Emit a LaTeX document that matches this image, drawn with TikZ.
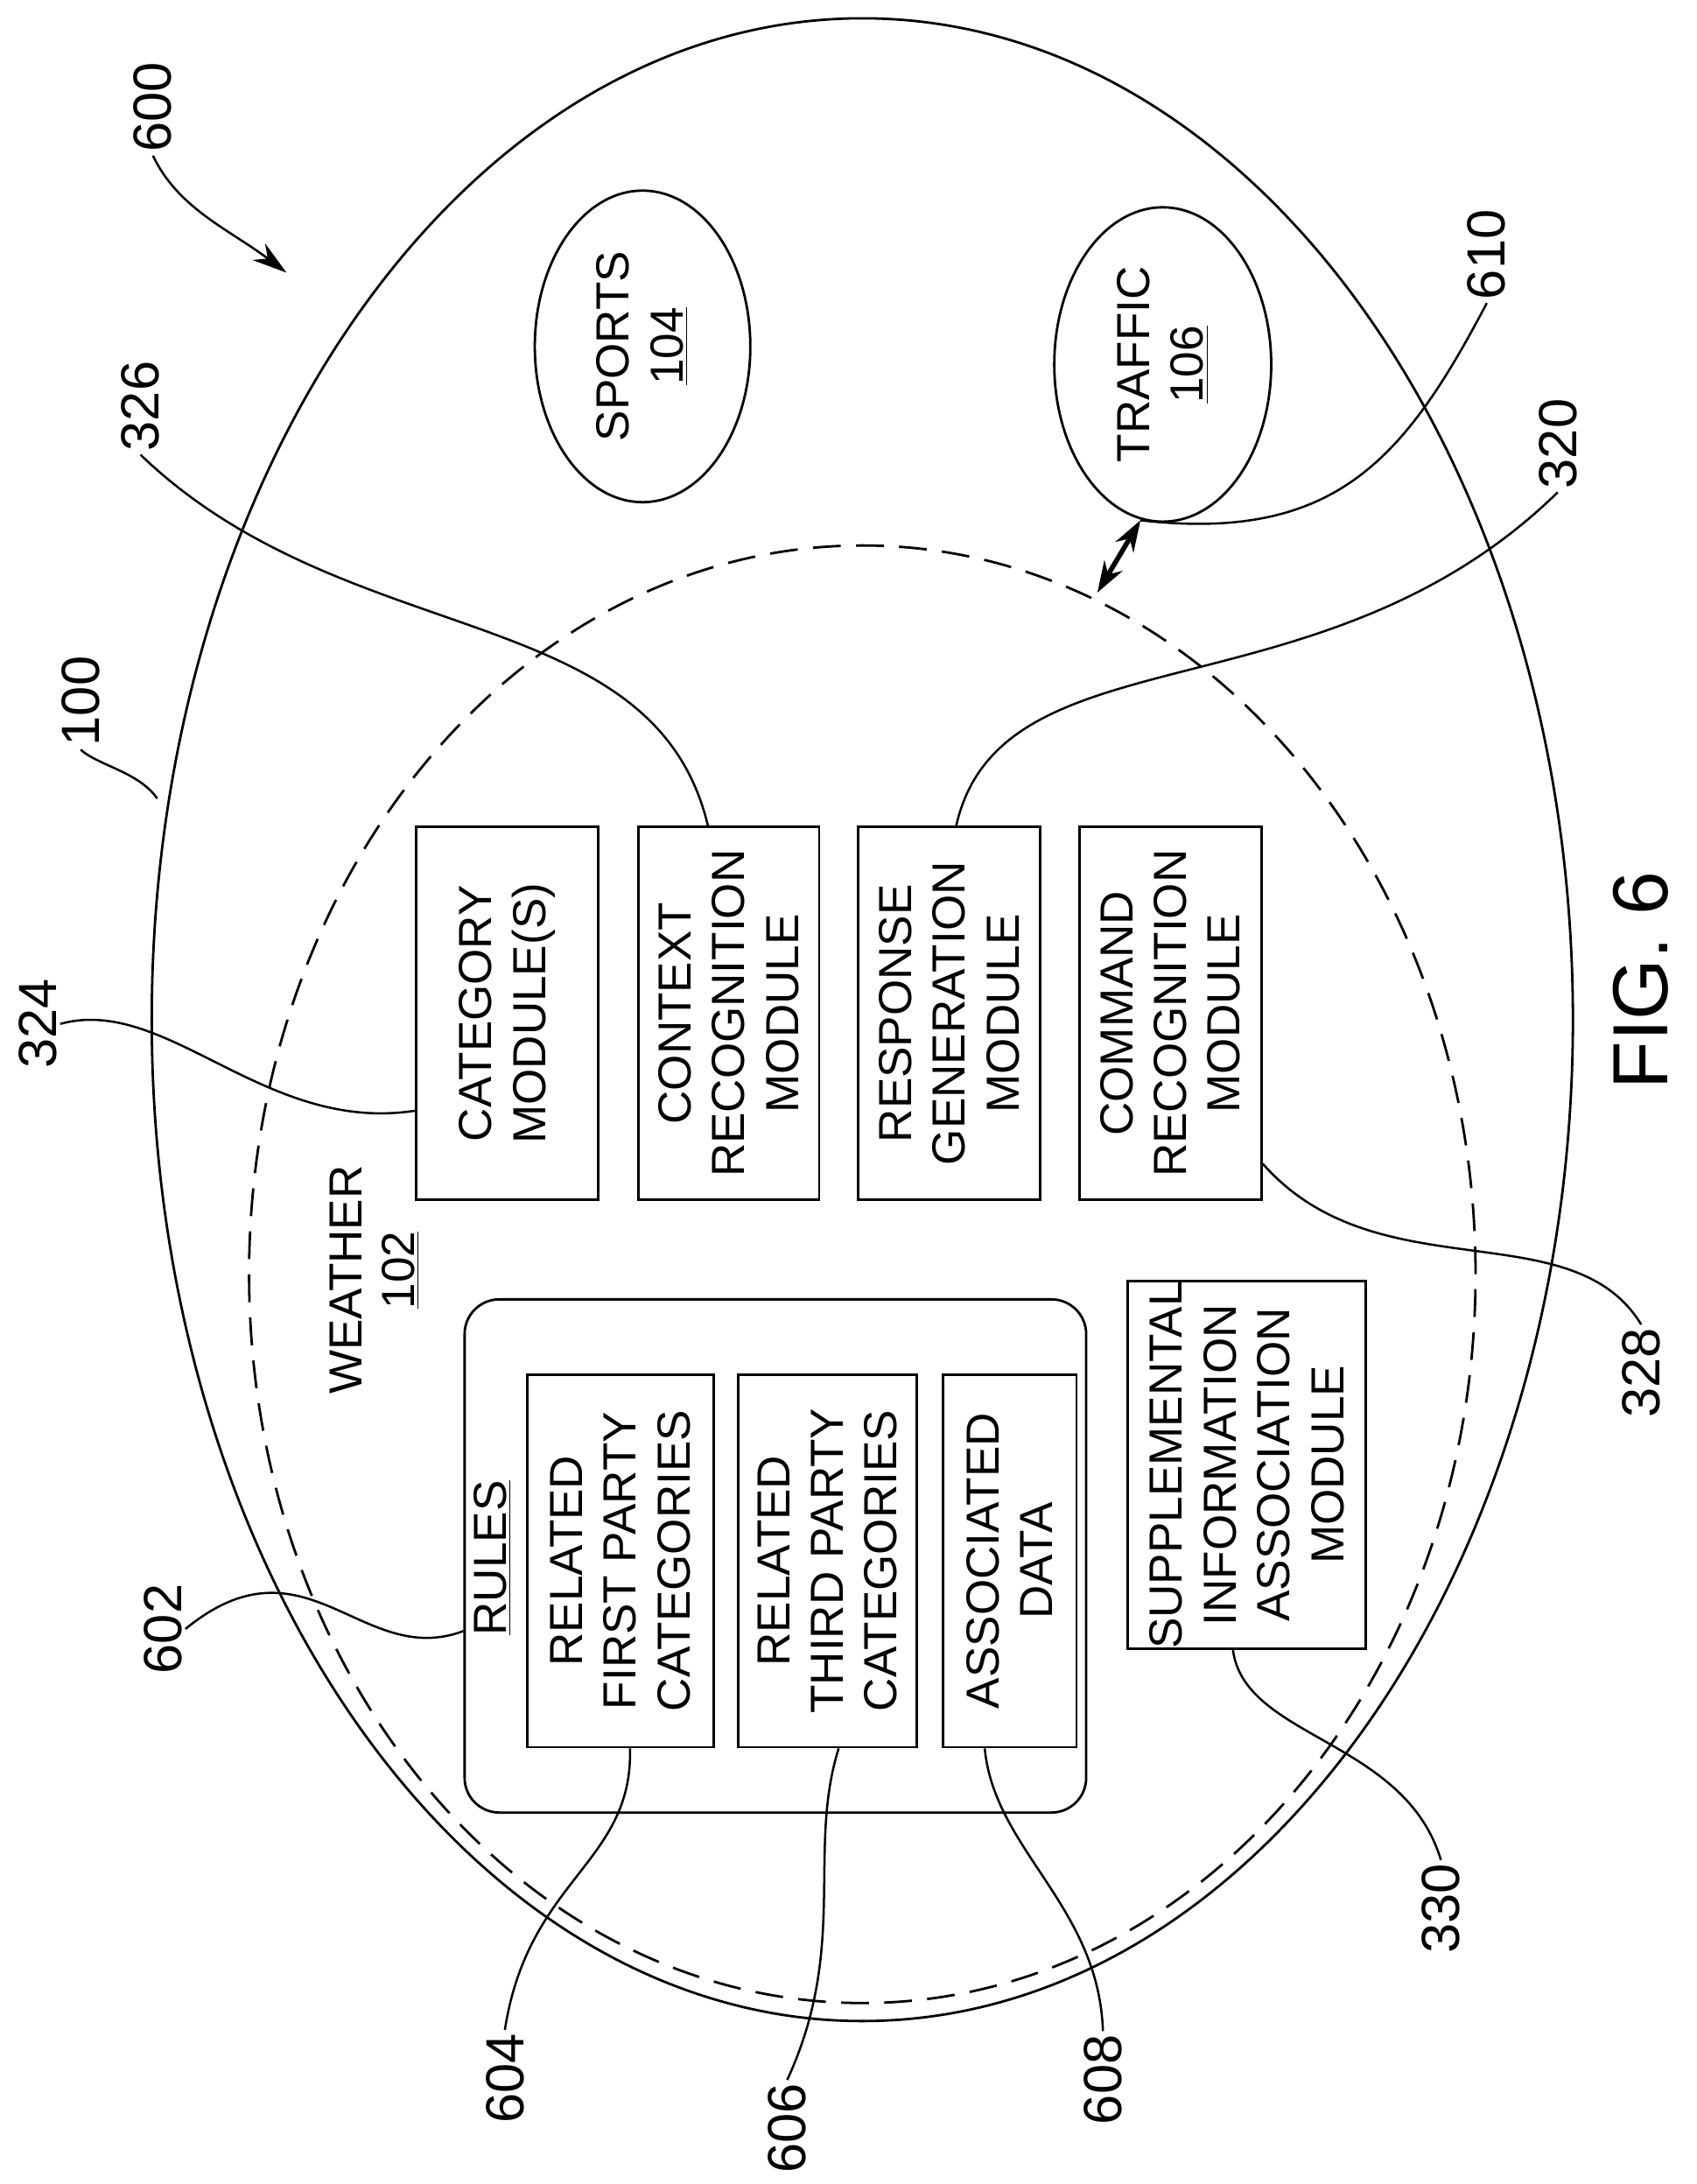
\documentclass[tikz,border=0pt]{standalone}
\usepackage{fontspec}
\setmainfont{Liberation Sans}
\usetikzlibrary{shapes.geometric,arrows.meta}
\begin{document}
\begin{tikzpicture}[x=0.02cm,y=-0.02cm,line width=1pt,
  box/.style={draw,rotate=90,align=center,inner sep=0pt,font=\fontsize{19}{22}\selectfont},
  oval/.style={draw,ellipse,rotate=90,align=center,inner sep=0pt,font=\fontsize{19}{22}\selectfont},
  lbl/.style={rotate=90,inner sep=1pt,font=\fontsize{22}{24}\selectfont},
  lead/.style={line width=0.9pt}]
\useasboundingbox (0,0) rectangle (1220,1570);
% outer and inner regions
\node[draw,ellipse,minimum width=20.44cm,minimum height=28.8cm,inner sep=0pt] (outer) at (620,733) {};
\node[draw,ellipse,dash pattern=on 0.4cm off 0.22cm,minimum width=17.64cm,minimum height=20.96cm,inner sep=0pt] (inner) at (620,916) {};
% categories
\node[oval,minimum width=4.48cm,minimum height=3.1cm] (sports) at (462,249) {SPORTS\\\underline{104}};
\node[oval,minimum width=4.52cm,minimum height=3.12cm] (traffic) at (836,262) {TRAFFIC\\\underline{106}};
% modules
\node[box,minimum width=5.36cm,minimum height=2.62cm] (cat) at (364.5,728.5) {CATEGORY\\MODULE(S)};
\node[box,minimum width=5.36cm,minimum height=2.6cm] (ctx) at (524,728.5) {CONTEXT\\RECOGNITION\\MODULE};
\node[box,minimum width=5.36cm,minimum height=2.62cm] (resp) at (682.5,728.5) {RESPONSE\\GENERATION\\MODULE};
\node[box,minimum width=5.36cm,minimum height=2.62cm] (cmd) at (841.5,728.5) {COMMAND\\RECOGNITION\\MODULE};
\node[lbl,font=\fontsize{19}{22}\selectfont] (weather) at (249,920) {WEATHER};
\node[lbl,font=\fontsize{19}{22}\selectfont] (w102) at (288,913) {\underline{102}};
% rules
\node[draw,rounded corners=0.5cm,minimum width=8.94cm,minimum height=7.38cm,inner sep=0pt] (rules) at (557.5,1118.5) {};
\node[lbl,font=\fontsize{19}{22}\selectfont] (rulest) at (354,1120) {\underline{RULES}};
\node[box,minimum width=5.36cm,minimum height=2.68cm] (r1) at (446,1122) {RELATED\\FIRST PARTY\\CATEGORIES};
\node[box,minimum width=5.36cm,minimum height=2.56cm] (r2) at (595,1122) {RELATED\\THIRD PARTY\\CATEGORIES};
\node[box,minimum width=5.36cm,minimum height=1.92cm] (r3) at (726,1122) {ASSOCIATED\\DATA};
\node[box,minimum width=4.76cm,minimum height=3.42cm] (supp) at (896.5,1053) {SUPPLEMENTAL\\INFORMATION\\ASSOCIATION\\MODULE};
% double arrow
\coordinate (dA) at (789,426);
\coordinate (dB) at (820,374);
\draw[line width=2pt,{Stealth[length=0.45cm,width=0.3cm]}-{Stealth[length=0.45cm,width=0.3cm]}] (dA) -- (dB);
% labels
\node[lbl] (l600) at (110,77) {600};
\node[lbl] (l100) at (58,504) {100};
\node[lbl] (l326) at (101,292) {326};
\node[lbl] (l324) at (27,736) {324};
\node[lbl] (l320) at (1120,319) {320};
\node[lbl] (l610) at (1069,183) {610};
\node[lbl] (l328) at (1180,987) {328};
\node[lbl] (l602) at (117,1171) {602};
\node[lbl] (l604) at (363,1494) {604};
\node[lbl] (l606) at (566,1530) {606};
\node[lbl] (l608) at (793,1495) {608};
\node[lbl] (l330) at (1036,1372) {330};
\node[lbl,font=\fontsize{32}{34}\selectfont] (fig) at (1180,705) {FIG. 6};
% leaders
\coordinate (a600) at (206,196);
\coordinate (c100) at (113,574);
\draw[lead,-{Stealth[length=0.5cm,width=0.3cm]}] (l600.west) .. controls (128,150) and (165,165) .. (a600);
\draw[lead] (l100.west) .. controls (70,550) and (100,555) .. (c100);
\draw[lead] (l326.west) .. controls (250,470) and (470,430) .. ([xshift=-0.3cm]ctx.east);
\draw[lead] (l320.west) .. controls (950,520) and (720,450) .. ([xshift=0.1cm]resp.east);
\draw[lead] (l610.west) .. controls (1010,330) and (960,390) .. (dB);
\draw[lead] (l324.south) .. controls (120,715) and (190,815) .. ([yshift=-1.4cm]cat.north);
\draw[lead] (l328.east) .. controls (1130,870) and (990,930) .. ([yshift=-2.16cm]cmd.south);
\draw[lead] (l602.south) .. controls (220,1100) and (260,1200) .. ([yshift=-1.08cm]rules.west);
\draw[lead] (l604.east) .. controls (380,1350) and (455,1340) .. ([xshift=0.14cm]r1.west);
\draw[lead] (l606.east) .. controls (610,1400) and (580,1330) .. ([xshift=0.16cm]r2.west);
\draw[lead] (l608.east) .. controls (790,1370) and (715,1330) .. ([xshift=-0.36cm]r3.west);
\draw[lead] (l330.east) .. controls (1010,1250) and (895,1250) .. ([xshift=-0.2cm]supp.west);
\end{tikzpicture}
\end{document}
